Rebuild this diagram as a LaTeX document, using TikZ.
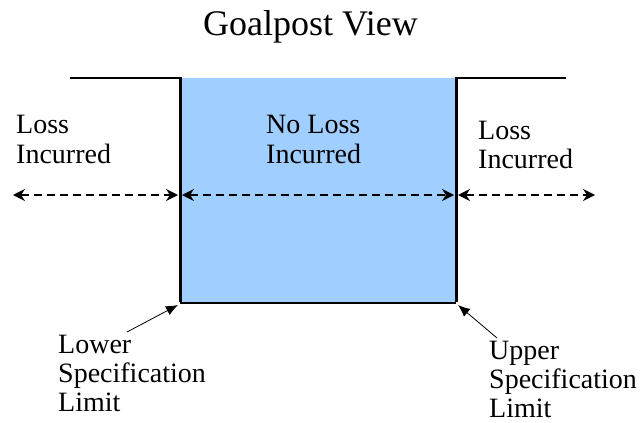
\documentclass[tikz,border=0pt]{standalone}
\usepackage{fontspec}
\setmainfont{Liberation Serif}
\newfontfamily\timesface{Liberation Serif}
\usetikzlibrary{arrows.meta}
\definecolor{zoneblue}{RGB}{160,207,255}
\tikzset{
  txt/.style={font=\timesface\fontsize{28}{30}\selectfont, inner sep=0pt, anchor=base west},
  titletxt/.style={font=\timesface\fontsize{36}{38}\selectfont, inner sep=0pt, anchor=base},
  dasharrow/.style={dash pattern=on 8pt off 5pt, line width=1.4pt,
    {Stealth[length=12pt,width=12pt]}-{Stealth[length=12pt,width=12pt]}},
  postline/.style={line width=3pt},
  barline/.style={line width=2pt},
  pointer/.style={line width=0.8pt, -{Latex[length=12pt,width=10pt]}}
}
\begin{document}
\begin{tikzpicture}[x=1pt,y=-1pt]
\useasboundingbox (0,0) rectangle (640,423);
% key points
\coordinate (LT) at (180,78);
\coordinate (LB) at (180,303);
\coordinate (RT) at (456,78);
\coordinate (RB) at (456,303);
\coordinate (LE) at (70,78);
\coordinate (RE) at (566,78);
% zone
\fill[zoneblue] (LT) rectangle (RB);
\draw[barline] (LE) -- ([xshift=1.5pt]LT);
\draw[barline] ([xshift=-1.5pt]RT) -- (RE);
\draw[barline] (LB) -- (RB);
\draw[postline] ([yshift=-1pt]LT) -- ([yshift=1.5pt]LB);
\draw[postline] ([yshift=-1pt]RT) -- ([yshift=1.5pt]RB);
% title
\node[titletxt] (title) at (310.5,35) {Goalpost View};
% texts
\node[txt] (lossL1) at (16,133) {Loss};
\node[txt] (lossL2) at (16,163) {Incurred};
\node[txt] (noloss1) at (266,133) {No Loss};
\node[txt] (noloss2) at (266,163) {Incurred};
\node[txt] (lossR1) at (478,139) {Loss};
\node[txt] (lossR2) at (478,168) {Incurred};
\node[txt] (lsl1) at (58,353) {Lower};
\node[txt] (lsl2) at (58,382) {Specification};
\node[txt] (lsl3) at (58,411) {Limit};
\node[txt] (usl1) at (489,359) {Upper};
\node[txt] (usl2) at (489,388) {Specification};
\node[txt] (usl3) at (489,417) {Limit};
% dashed arrows
\coordinate (aL) at (13,195);
\coordinate (aLm) at (178,195);
\coordinate (aMl) at (182,195);
\coordinate (aMr) at (454,195);
\coordinate (aRl) at (458,195);
\coordinate (aRr) at (595,195);
\draw[dasharrow] (aL) -- (aLm);
\draw[dasharrow] (aMl) -- (aMr);
\draw[dasharrow] (aRl) -- (aRr);
% pointers
\coordinate (lslStart) at (127,332);
\coordinate (lslTip) at (178,305);
\coordinate (uslStart) at (497,338);
\coordinate (uslTip) at (458,305);
\draw[pointer] (lslStart) -- (lslTip);
\draw[pointer] (uslStart) -- (uslTip);
\end{tikzpicture}
\end{document}
